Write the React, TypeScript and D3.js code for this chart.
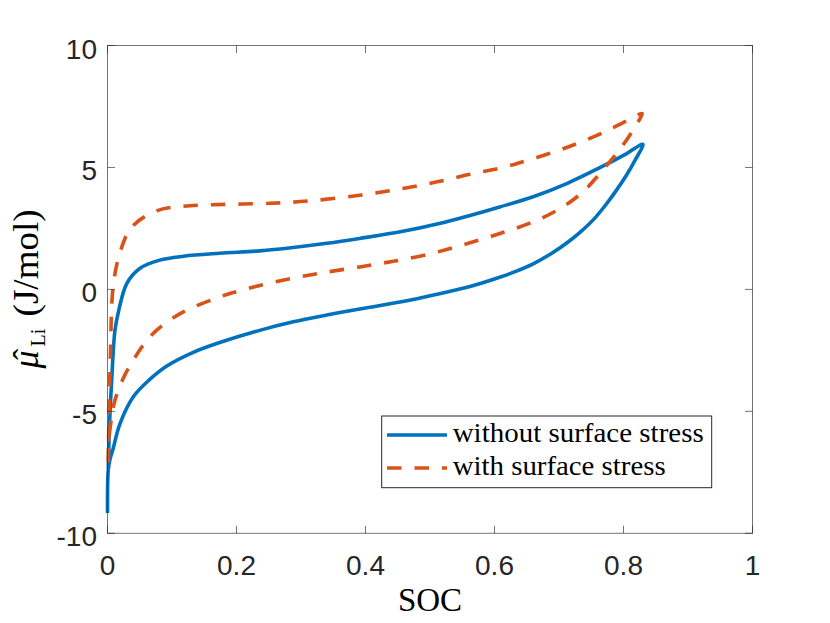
import React from 'react';
import * as d3 from 'd3';

type Pt = [number, number];

// [SOC, chemical potential]
const blueLower: Pt[] = [
  [0, -9.17], [0.0012, -7.4], [0.004, -6.95], [0.009, -6.5], [0.019, -5.53],
  [0.04, -4.4], [0.066, -3.68], [0.092, -3.14], [0.133, -2.58], [0.174, -2.18],
  [0.236, -1.68], [0.288, -1.33], [0.34, -1.05], [0.391, -0.8], [0.458, -0.5],
  [0.511, -0.2], [0.562, 0.12], [0.608, 0.5], [0.635, 0.76], [0.66, 1.05],
  [0.687, 1.45], [0.712, 1.9], [0.733, 2.35], [0.753, 2.85], [0.772, 3.45],
  [0.79, 4.1], [0.805, 4.7], [0.818, 5.3], [0.83, 5.95],
];

const blueUpper: Pt[] = [
  [0.0012, -7.4], [0.0028, -5.77], [0.0065, -3.72], [0.0116, -1.67], [0.0167, -0.95],
  [0.03, 0.25], [0.05, 0.86], [0.081, 1.2], [0.118, 1.36], [0.174, 1.48],
  [0.236, 1.58], [0.288, 1.72], [0.34, 1.89], [0.391, 2.09], [0.458, 2.38],
  [0.511, 2.68], [0.562, 3.03], [0.608, 3.38], [0.66, 3.8], [0.712, 4.34],
  [0.764, 5.0], [0.805, 5.57], [0.83, 5.95],
];

const orangeLower: Pt[] = [
  [0.0012, -7.1], [0.002, -6.2], [0.0065, -5.22], [0.0116, -4.54], [0.0245, -3.64],
  [0.04, -2.9], [0.0555, -2.28], [0.0763, -1.67], [0.1175, -0.92], [0.1667, -0.38],
  [0.195, -0.13], [0.236, 0.16], [0.288, 0.46], [0.34, 0.71], [0.391, 0.92],
  [0.4225, 1.06], [0.458, 1.22], [0.511, 1.53], [0.562, 1.91], [0.613, 2.33],
  [0.66, 2.77], [0.702, 3.32], [0.737, 4.0], [0.774, 5.09], [0.799, 5.91],
  [0.821, 6.8], [0.829, 7.21],
];

const orangeUpper: Pt[] = [
  [0.0012, -7.1], [0.0025, -5.0], [0.0045, -2.7], [0.009, 0.17], [0.0205, 1.61],
  [0.038, 2.57], [0.076, 3.22], [0.1175, 3.41], [0.159, 3.47], [0.252, 3.53],
  [0.314, 3.63], [0.391, 3.86], [0.458, 4.14], [0.511, 4.41], [0.562, 4.72],
  [0.613, 5.0], [0.64, 5.2], [0.686, 5.58], [0.728, 5.98], [0.768, 6.42],
  [0.805, 6.91], [0.829, 7.21],
];

const xTicks = [0, 0.2, 0.4, 0.6, 0.8, 1];
const xTickLabels = ['0', '0.2', '0.4', '0.6', '0.8', '1'];
const yTicks = [-10, -5, 0, 5, 10];
const yTickLabels = ['-10', '-5', '0', '5', '10'];
const seriesNames = ['without surface stress', 'with surface stress'];

const BLUE = '#0072BD';
const ORANGE = '#D95319';
const AXIS = '#262626';
const SANS = '"Liberation Sans", Arial, Helvetica, sans-serif';
const SERIF = '"Liberation Serif", "Times New Roman", serif';

export default function App() {
  const W = 830;
  const H = 623;
  const x = d3.scaleLinear().domain([0, 1]).range([107.5, 752.5]);
  const y = d3.scaleLinear().domain([-10, 10]).range([533.3, 45.5]);
  const [x0, x1] = x.range();
  const [y0, y1] = y.range();

  const line = d3
    .line<Pt>()
    .x((d) => x(d[0]))
    .y((d) => y(d[1]))
    .curve(d3.curveCatmullRom.alpha(0.5));

  const bluePath = line([...blueLower, ...blueUpper.slice().reverse().slice(1)]) || '';
  const orangePath = line([...orangeLower, ...orangeUpper.slice().reverse().slice(1)]) || '';

  const tickLen = 7.5;
  const lw = 3.6;
  const dash = '14.5 13';

  return (
    <svg
      width={W}
      height={H}
      viewBox={`0 0 ${W} ${H}`}
      style={{ position: 'absolute', left: 0, top: 0, background: '#fff' }}
    >
      <rect x={0} y={0} width={W} height={H} fill="#fff" />

      {/* curves */}
      <path d={bluePath} fill="none" stroke={BLUE} strokeWidth={lw} strokeLinejoin="round" />
      <path
        d={orangePath}
        fill="none"
        stroke={ORANGE}
        strokeWidth={lw}
        strokeDasharray={dash}
        strokeLinejoin="round"
      />

      {/* axes box */}
      <rect x={x0} y={y1} width={x1 - x0} height={y0 - y1} fill="none" stroke={AXIS} strokeOpacity={0.65} strokeWidth={1} />

      {/* ticks */}
      {xTicks.map((t) => (
        <g key={`xt${t}`} stroke={AXIS} strokeOpacity={0.65} strokeWidth={1}>
          <line x1={x(t)} x2={x(t)} y1={y0} y2={y0 - tickLen} />
          <line x1={x(t)} x2={x(t)} y1={y1} y2={y1 + tickLen} />
        </g>
      ))}
      {yTicks.map((t) => (
        <g key={`yt${t}`} stroke={AXIS} strokeOpacity={0.65} strokeWidth={1}>
          <line x1={x0} x2={x0 + tickLen} y1={y(t)} y2={y(t)} />
          <line x1={x1} x2={x1 - tickLen} y1={y(t)} y2={y(t)} />
        </g>
      ))}

      {/* tick labels */}
      {xTicks.map((t, i) => (
        <text
          key={`xl${t}`}
          x={x(t)}
          y={575}
          textAnchor="middle"
          fontFamily={SANS}
          fontSize={28}
          fill={AXIS}
        >
          {xTickLabels[i]}
        </text>
      ))}
      {yTicks.map((t, i) => (
        <text
          key={`yl${t}`}
          x={97}
          y={y(t) + 13}
          textAnchor="end"
          fontFamily={SANS}
          fontSize={28}
          fill={AXIS}
        >
          {yTickLabels[i]}
        </text>
      ))}

      {/* axis labels */}
      <text x={(x0 + x1) / 2} y={611} textAnchor="middle" fontFamily={SERIF} fontSize={33} fill="#000">
        SOC
      </text>
      <g transform={`translate(38, ${(y0 + y1) / 2}) rotate(-90)`} fontFamily={SERIF} fill="#000">
        <text x={-79} y={0} fontSize={36} fontStyle="italic">μ</text>
        <text x={-65} y={-1} fontSize={34} textAnchor="middle">ˆ</text>
        <text x={-57} y={7} fontSize={20}>Li</text>
        <text x={-27} y={0} fontSize={35} textLength={107} lengthAdjust="spacingAndGlyphs">
          (J/mol)
        </text>
      </g>

      {/* legend */}
      <rect x={381.7} y={416} width={330} height={71.7} fill="#fff" stroke={AXIS} strokeWidth={1} />
      <line x1={387} x2={447} y1={435} y2={435} stroke={BLUE} strokeWidth={lw} />
      <line x1={387} x2={447} y1={468} y2={468} stroke={ORANGE} strokeWidth={lw} strokeDasharray={dash} />
      <text x={452.7} y={441.5} fontFamily={SERIF} fontSize={28} fill="#000" textLength={251} lengthAdjust="spacingAndGlyphs">
        {seriesNames[0]}
      </text>
      <text x={452.7} y={474.5} fontFamily={SERIF} fontSize={28} fill="#000" textLength={213} lengthAdjust="spacingAndGlyphs">
        {seriesNames[1]}
      </text>
    </svg>
  );
}
